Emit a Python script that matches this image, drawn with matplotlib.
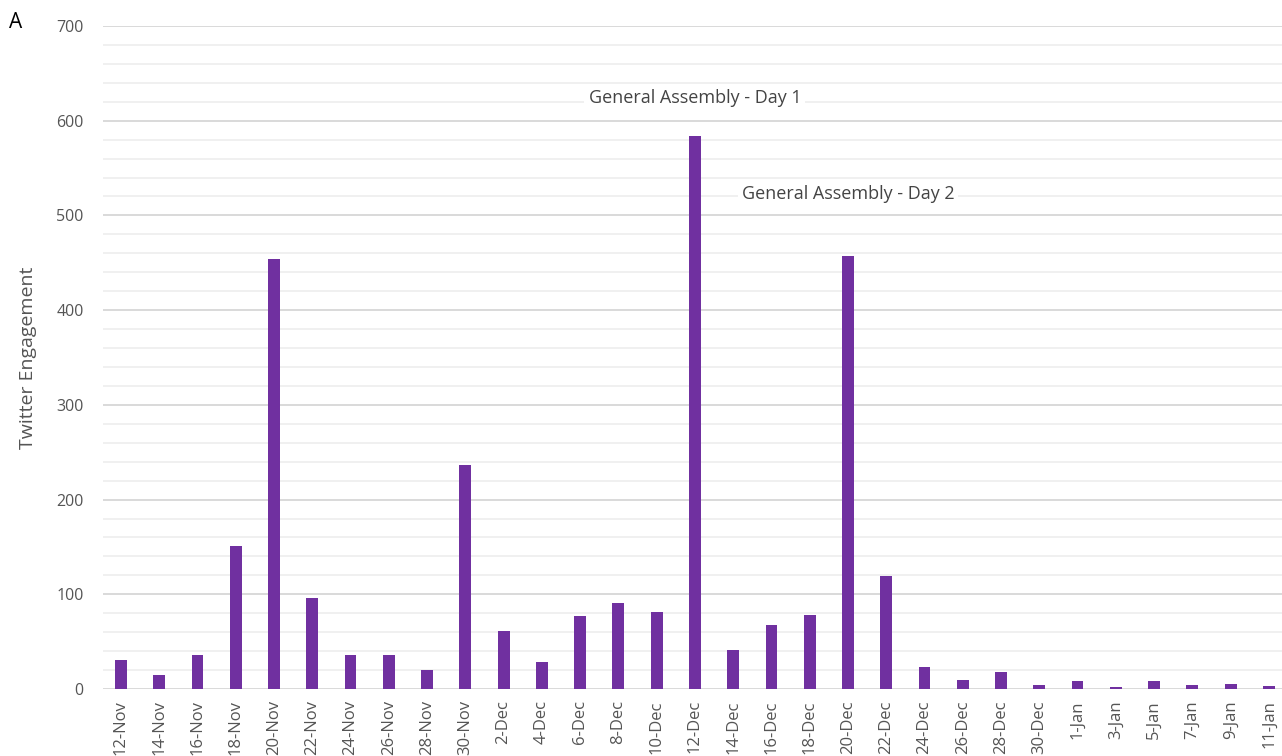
import matplotlib.pyplot as plt
from matplotlib.ticker import MultipleLocator

dias = ["12-Nov", "14-Nov", "16-Nov", "18-Nov", "20-Nov", "22-Nov", "24-Nov",
        "26-Nov", "28-Nov", "30-Nov", "2-Dec", "4-Dec", "6-Dec", "8-Dec",
        "10-Dec", "12-Dec", "14-Dec", "16-Dec", "18-Dec", "20-Dec", "22-Dec",
        "24-Dec", "26-Dec", "28-Dec", "30-Dec", "1-Jan", "3-Jan", "5-Jan",
        "7-Jan", "9-Jan", "11-Jan"]
engajamento = [31, 15, 36, 151, 454, 96, 36, 36, 20, 236, 61, 29, 77, 91,
               81, 584, 41, 68, 78, 457, 119, 23, 10, 18, 4, 8, 2, 8, 4, 5, 3]

eventos = ["General Assembly - Day 1", "General Assembly - Day 2"]
eventos_dia = ["12-Dec", "20-Dec"]
eventos_y = [624, 523]

plt.rcParams['font.family'] = ['Open Sans', 'DejaVu Sans']
cinza = "#555555"

fig = plt.figure(figsize=(12.82, 7.56), dpi=100)
ax = fig.add_axes([0.0803, 0.0886, 0.925, 0.877])

x = range(len(dias))
ax.bar(x, engajamento, width=0.31, color="#7030a0", zorder=3)

ax.set_xlim(-0.47, len(dias) - 0.48)
ax.set_ylim(0, 700)
ax.yaxis.set_major_locator(MultipleLocator(100))
ax.yaxis.set_minor_locator(MultipleLocator(20))
ax.grid(which="major", axis="y", color="#d9d9d9", linewidth=1.4, zorder=0)
ax.grid(which="minor", axis="y", color="#f0f0f0", linewidth=1.4, zorder=0)
ax.set_axisbelow(True)

ax.set_xticks(list(x))
ax.set_xticklabels(dias, rotation=90, fontsize=12, color=cinza)
ax.tick_params(axis="x", length=0, pad=8)
ax.tick_params(axis="y", which="both", length=0, pad=14, labelsize=11.5, labelcolor=cinza)
for s in ax.spines.values():
    s.set_visible(False)

ax.set_ylabel("Twitter Engagement", fontsize=14, color=cinza, labelpad=14)

for texto, dia, yv in zip(eventos, eventos_dia, eventos_y):
    ax.text(dias.index(dia), yv, texto, ha="center", va="center", fontsize=13,
            color="#444444", zorder=4,
            bbox=dict(facecolor="white", edgecolor="none", pad=3))

fig.text(0.007, 0.97, "A", fontsize=15, color="black", va="center")

fig.savefig("out.png", dpi=100)
